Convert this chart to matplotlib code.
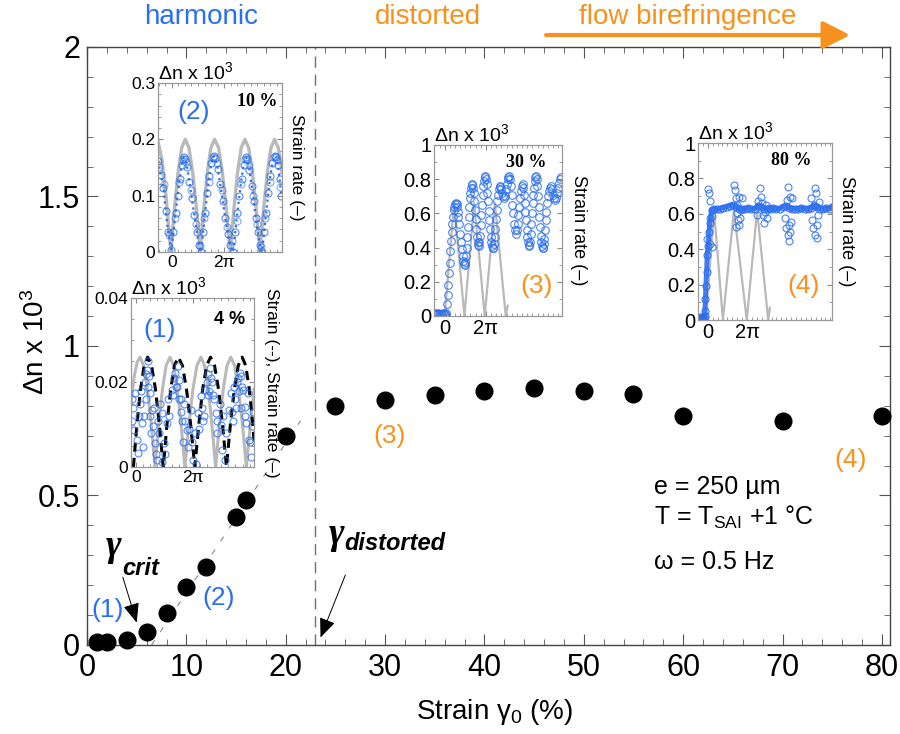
import numpy as np
import matplotlib.pyplot as plt
from matplotlib.ticker import MultipleLocator, FuncFormatter, FixedLocator

plt.rcParams['font.family'] = ['Liberation Sans', 'DejaVu Sans']
plt.rcParams['mathtext.fontset'] = 'custom'
plt.rcParams['mathtext.rm'] = 'Liberation Sans'
plt.rcParams['mathtext.it'] = 'Liberation Sans:italic'
plt.rcParams['mathtext.bf'] = 'Liberation Sans:bold'

BLUE = '#2b6ff0'
ORANGE = '#f7921e'
GREY = '#b9b9b9'

# main curve: birefringence vs strain amplitude
strain = [1, 2, 4, 6, 8, 10, 12, 15, 16, 20, 25, 30, 35, 40, 45, 50, 55, 60, 70, 80]
dn = [0.010, 0.010, 0.018, 0.045, 0.108, 0.193, 0.26, 0.429, 0.485, 0.70,
      0.80, 0.82, 0.835, 0.85, 0.86, 0.85, 0.84, 0.765, 0.75, 0.765]
fit_strain = [6.5, 21.5]
fit_dn = [0.0, 0.75]
gamma_distorted = 22.9

# inset (2) : 10 %
grey2_x = [-1.65, -1.2, -0.7, -0.12, 0.32, 0.75, 1.18, 1.61, 2.05, 2.5, 2.95, 3.39, 3.82, 4.25,
           4.68, 5.12, 5.6, 6.05, 6.52, 7.0, 7.44, 7.87, 8.31, 8.75, 9.2, 9.65, 10.1, 10.56,
           11.0, 11.43, 11.87, 12.3, 12.75, 13.2]
grey2_y = [0.196, 0.165, 0.10, 0.0, 0.077, 0.141, 0.185, 0.2, 0.185, 0.141, 0.077, 0.0, 0.077,
           0.141, 0.185, 0.2, 0.185, 0.141, 0.077, 0.0, 0.077, 0.141, 0.185, 0.2, 0.185, 0.141,
           0.077, 0.0, 0.077, 0.141, 0.185, 0.2, 0.185, 0.141]
blue2_x = [-1.62, -1.33, -1.0, -0.73, -0.44, -0.04, 0.2, 0.45, 0.7, 0.95, 1.2, 1.45, 1.6, 1.85,
           2.1, 2.4, 2.7, 3.0, 3.25, 3.5, 3.75, 4.0, 4.25, 4.5, 4.75, 5.0, 5.2, 5.5, 5.8, 6.1,
           6.4, 6.7, 7.0, 7.34, 7.6, 7.85, 8.1, 8.35, 8.6, 8.85, 9.05, 9.3, 9.55, 9.8, 10.05,
           10.3, 10.55, 10.8, 11.05, 11.3, 11.55, 11.8, 12.05, 12.3, 12.5, 12.7, 12.9, 13.1]
blue2_y = [0.162, 0.137, 0.113, 0.072, 0.036, 0.003, 0.035, 0.07, 0.10, 0.13, 0.155, 0.168,
           0.165, 0.15, 0.125, 0.095, 0.065, 0.035, 0.012, 0.0, 0.035, 0.07, 0.105, 0.135,
           0.158, 0.17, 0.166, 0.148, 0.12, 0.09, 0.06, 0.032, 0.012, 0.0, 0.035, 0.07, 0.10,
           0.13, 0.155, 0.168, 0.165, 0.145, 0.118, 0.09, 0.06, 0.035, 0.012, 0.0, 0.035, 0.07,
           0.105, 0.135, 0.158, 0.17, 0.168, 0.155, 0.13, 0.10]
# scattered extra circles around the humps in inset (2)
blue2b_x = [-1.5, -0.9, -0.3, 0.35, 0.85, 1.35, 1.75, 2.25, 2.85, 3.35, 3.9, 4.4, 4.9, 5.35,
            5.95, 6.55, 7.2, 7.75, 8.25, 8.75, 9.2, 9.7, 10.2, 10.7, 11.2, 11.7, 12.2, 12.6,
            13.0]
blue2b_y = [0.15, 0.12, 0.03, 0.06, 0.125, 0.165, 0.16, 0.11, 0.05, 0.01, 0.06, 0.125,
            0.168, 0.158, 0.11, 0.045, 0.02, 0.055, 0.12, 0.165, 0.155, 0.10, 0.05, 0.008,
            0.06, 0.125, 0.168, 0.163, 0.115]

# inset (1) : 4 %
grey1_x = [-0.55, -0.2, 0.12, 0.44, 0.85, 1.27, 1.69, 2.1, 2.51, 2.92, 3.33, 3.75, 4.16, 4.57,
           4.98, 5.4, 5.84, 6.29, 6.73, 7.17, 7.58, 7.99, 8.39, 8.8, 9.22, 9.64, 10.06, 10.48,
           10.9, 11.33, 11.77, 12.2, 12.63, 13.05]
grey1_y = [0.015, 0.0214, 0.0248, 0.026, 0.024, 0.0184, 0.010, 0.0, 0.010, 0.0184, 0.024, 0.026,
           0.024, 0.0184, 0.010, 0.0, 0.010, 0.0184, 0.024, 0.026, 0.024, 0.0184, 0.010, 0.0,
           0.010, 0.0184, 0.024, 0.026, 0.024, 0.0184, 0.010, 0.0, 0.010, 0.0184]
strain1_x = [-0.29, 0.1, 0.5, 0.9, 1.29, 1.72, 2.15, 2.58, 3.01, 3.42, 3.84, 4.25, 4.67, 5.13,
             5.58, 6.04, 6.5, 6.94, 7.37, 7.81, 8.24, 8.68, 9.12, 9.56, 10.0, 10.43, 10.87,
             11.3, 11.73, 12.13, 12.52, 12.91, 13.05]
strain1_y = [0, 0.010, 0.0184, 0.024, 0.026, 0.024, 0.0184, 0.010, 0, 0.010, 0.0184, 0.024,
             0.026, 0.024, 0.0184, 0.010, 0, 0.010, 0.0184, 0.024, 0.026, 0.024, 0.0184, 0.010,
             0, 0.010, 0.0184, 0.024, 0.026, 0.024, 0.0184, 0.010, 0.006]
blue1_x = [-0.48, -0.29, -0.4, -0.18, 0.07, -0.11, 0.44, 0.63, 0.8, 0.26, 0.99, 1.18, 1.29,
           1.43, 1.54, 1.73, 1.91, 2.1, 2.28, 1.65, 2.46, 2.65, 2.83, 3.12, 2.9, 3.38, 3.57,
           3.93, 4.3, 4.6, 4.78, 4.96, 5.11, 5.33, 5.59, 5.77, 6.07, 6.32, 6.58, 6.5, 6.87,
           7.17, 7.43, 7.68, 7.98, 8.16, 8.42, 8.64, 8.79, 9.0, 9.26, 9.52, 9.82, 10.0, 10.26,
           10.48, 10.74, 10.92, 11.21, 11.47, 11.65, 11.84, 12.02, 12.2, 12.46, 12.68, 12.83,
           12.39, 0.9, 4.45, 8.0, 11.55, 3.2, 6.2, 9.6,
           0.3, 0.55, 1.05, 1.1, 1.35, 1.6, 2.0, 2.2, 2.55, 3.7, 4.1, 4.2, 4.5, 4.7, 5.0, 5.2,
           5.45, 5.9, 7.0, 7.3, 7.55, 7.8, 8.05, 8.3, 8.5, 8.9, 9.4, 10.6, 10.85, 11.05, 11.3,
           11.4, 11.75, 12.1, 12.55, 12.95]
blue1_y = [0.016, 0.014, 0.011, 0.0088, 0.0064, 0.0175, 0.015, 0.0104, 0.0048, 0.0032, 0.020,
           0.023, 0.025, 0.0215, 0.0175, 0.0135, 0.0096, 0.0056, 0.0016, 0.008, 0.011, 0.015,
           0.0127, 0.0056, 0.0012, 0.0104, 0.016, 0.0183, 0.0223, 0.024, 0.0207, 0.016, 0.011,
           0.015, 0.0088, 0.0048, 0.0135, 0.0016, 0.0008, 0.008, 0.0127, 0.0167, 0.011, 0.0183,
           0.022, 0.0235, 0.020, 0.016, 0.0127, 0.008, 0.015, 0.004, 0.0016, 0.008, 0.0135,
           0.0175, 0.011, 0.016, 0.020, 0.0223, 0.0215, 0.0183, 0.0143, 0.0104, 0.0064, 0.0024,
           0.0096, 0.0175, 0.012, 0.019, 0.017, 0.014, 0.003, 0.006, 0.012,
           0.012, 0.018, 0.016, 0.022, 0.019, 0.012, 0.014, 0.003, 0.008, 0.012, 0.017, 0.021,
           0.019, 0.016, 0.013, 0.006, 0.011, 0.009, 0.009, 0.014, 0.012, 0.020, 0.018, 0.021,
           0.017, 0.011, 0.010, 0.013, 0.019, 0.014, 0.021, 0.018, 0.019, 0.012, 0.006, 0.013]

# inset (3) : 30 %
grey3_x = [0.0, 1.43, 3.0, 4.5, 6.1, 7.65, 9.3, 9.6]
grey3_y = [0.0, 0.66, 0.0, 0.66, 0.0, 0.66, 0.0, 0.06]
blue3_pts = [
    (-1.6, 0.01), (-1.45, 0.015), (-1.3, 0.012), (-1.15, 0.01), (-1.0, 0.015), (-0.85, 0.01),
    (-0.7, 0.014), (-0.55, 0.01), (-0.4, 0.012), (-0.25, 0.015), (-0.1, 0.01), (0.0, 0.012),
    (0.1, 0.01), (0.25, 0.02), (0.35, 0.07), (0.45, 0.12), (0.55, 0.18), (0.65, 0.25),
    (0.75, 0.31), (0.85, 0.38), (0.95, 0.44), (1.05, 0.49), (1.15, 0.54), (1.25, 0.58),
    (1.35, 0.62), (1.45, 0.64), (1.55, 0.655), (1.68, 0.66), (1.8, 0.655), (1.9, 0.64),
    (2.0, 0.61), (2.1, 0.58), (2.2, 0.54), (2.35, 0.48), (2.48, 0.43), (2.6, 0.39),
    (2.72, 0.35), (2.85, 0.32), (2.95, 0.305), (3.06, 0.30), (3.15, 0.315), (3.25, 0.35),
    (3.35, 0.40), (3.45, 0.46), (3.55, 0.52), (3.65, 0.58), (3.75, 0.64), (3.85, 0.69),
    (3.92, 0.72), (4.0, 0.75), (4.1, 0.765), (4.18, 0.77), (4.3, 0.75), (4.4, 0.72),
    (4.5, 0.67), (4.6, 0.62), (4.7, 0.565), (4.8, 0.51), (4.9, 0.46), (5.0, 0.43),
    (5.1, 0.415), (5.2, 0.41), (5.3, 0.43), (5.4, 0.47), (5.5, 0.53), (5.6, 0.59),
    (5.7, 0.65), (5.8, 0.71), (5.9, 0.76), (6.0, 0.79), (6.08, 0.81), (6.17, 0.82),
    (6.3, 0.80), (6.4, 0.77), (6.5, 0.72), (6.6, 0.67), (6.7, 0.615), (6.8, 0.56),
    (6.9, 0.51), (7.0, 0.46), (7.1, 0.43), (7.2, 0.41), (7.3, 0.40), (7.4, 0.40),
    (7.5, 0.42), (7.6, 0.46), (7.7, 0.51), (7.8, 0.57), (7.9, 0.62), (8.0, 0.67),
    (8.12, 0.71), (8.25, 0.74), (8.35, 0.755), (8.47, 0.76), (8.65, 0.745), (8.8, 0.72),
    (8.95, 0.70), (9.08, 0.69), (9.2, 0.70), (9.35, 0.74), (9.48, 0.77), (9.6, 0.80),
    (9.7, 0.815), (9.8, 0.82), (9.92, 0.80), (10.05, 0.76), (10.18, 0.71), (10.3, 0.65),
    (10.42, 0.60), (10.55, 0.54), (10.7, 0.50), (10.87, 0.48), (11.0, 0.50), (11.1, 0.54),
    (11.22, 0.59), (11.35, 0.64), (11.48, 0.69), (11.6, 0.73), (11.75, 0.76), (11.9, 0.77),
    (12.0, 0.75), (12.1, 0.71), (12.2, 0.66), (12.3, 0.61), (12.4, 0.56), (12.5, 0.50),
    (12.6, 0.46), (12.7, 0.43), (12.8, 0.415), (12.9, 0.41), (13.0, 0.43), (13.1, 0.48),
    (13.2, 0.54), (13.3, 0.60), (13.4, 0.66), (13.5, 0.71), (13.6, 0.75), (13.7, 0.79),
    (13.8, 0.81), (13.9, 0.82), (14.0, 0.80), (14.1, 0.76), (14.2, 0.70), (14.3, 0.64),
    (14.4, 0.58), (14.5, 0.52), (14.6, 0.47), (14.7, 0.43), (14.8, 0.41), (14.9, 0.40),
    (15.0, 0.40), (15.1, 0.42), (15.2, 0.45), (15.3, 0.50), (15.4, 0.56), (15.5, 0.61),
    (15.65, 0.66), (15.8, 0.70), (15.95, 0.73), (16.1, 0.75), (16.25, 0.76), (16.4, 0.74),
    (16.55, 0.71), (16.7, 0.69), (16.85, 0.68), (17.0, 0.69), (17.15, 0.72), (17.3, 0.75),
    (17.45, 0.78), (17.6, 0.80), (17.75, 0.81)]
blue3_x = [p[0] for p in blue3_pts]
blue3_y = [p[1] for p in blue3_pts]

# inset (4) : 80 %
grey4_x = [-0.3, 1.0, 2.42, 4.19, 6.24, 7.9, 9.68, 9.95]
grey4_y = [0.0, 0.62, 0.0, 0.62, 0.0, 0.62, 0.0, 0.07]
band4_x = [-1.56, -1.3, -1.0, -0.7, -0.5, -0.48, -0.38, -0.32, -0.2, -0.1, 0.05, 0.2, 0.32,
           0.6, 1.0, 1.5, 2.0, 2.5, 3.0, 3.5, 4.0, 4.5, 5.0, 5.5, 6.0, 6.5, 7.0, 7.5, 8.0, 8.5,
           9.0, 9.5, 10.0, 10.5, 11.0, 11.5, 12.0, 12.5, 13.0, 13.5, 14.0, 14.5, 15.0, 15.5,
           16.0, 16.5, 17.0, 17.5, 18.0, 18.5, 19.0, 19.5, 19.85]
band4_y = [0.015, 0.01, 0.015, 0.01, 0.02, 0.05, 0.12, 0.19, 0.27, 0.37, 0.42, 0.50, 0.55,
           0.62, 0.63, 0.625, 0.63, 0.635, 0.64, 0.645, 0.65, 0.64, 0.63, 0.625, 0.63, 0.635,
           0.625, 0.63, 0.645, 0.64, 0.63, 0.625, 0.63, 0.635, 0.625, 0.63, 0.64, 0.645, 0.635,
           0.625, 0.63, 0.625, 0.635, 0.63, 0.625, 0.635, 0.645, 0.64, 0.63, 0.625, 0.635,
           0.63, 0.64]
scat4_x = [-0.2, 0.43, 0.6, 0.05, 0.16, 0.32, 0.65, 0.43, 4.25, 4.35, 4.52, 4.62, 4.73, 4.89,
           5.0, 5.16, 5.27, 5.43, 4.46, 5.05, 8.39, 8.5, 8.66, 8.12, 8.82, 9.03, 9.19, 9.46,
           9.73, 7.85, 9.35, 12.85, 12.69, 12.42, 12.58, 12.8, 13.06, 13.23, 13.39, 13.55,
           13.12, 12.96, 17.1, 17.26, 16.99, 16.72, 16.88, 17.15, 17.42, 17.53, 17.69, 17.8,
           16.56, -1.4, -1.15, -0.85, -0.6]
scat4_y = [0.46, 0.43, 0.41, 0.74, 0.72, 0.67, 0.59, 0.575, 0.763, 0.735, 0.688, 0.65, 0.603,
           0.566, 0.537, 0.575, 0.622, 0.688, 0.528, 0.697, 0.744, 0.697, 0.66, 0.67, 0.594,
           0.547, 0.613, 0.575, 0.632, 0.594, 0.65, 0.754, 0.679, 0.575, 0.519, 0.481, 0.444,
           0.5, 0.556, 0.688, 0.697, 0.538, 0.744, 0.716, 0.65, 0.566, 0.519, 0.481, 0.462,
           0.538, 0.594, 0.669, 0.688, 0.012, 0.015, 0.01, 0.014]

fig = plt.figure(figsize=(9, 7.34), dpi=100)
ax = fig.add_axes([0.0967, 0.1213, 0.892, 0.8147])

ax.plot(fit_strain, fit_dn, color='#888888', lw=0.8, dashes=(5, 9))
ax.axvline(gamma_distorted, color='#707070', lw=1.0, dashes=(8, 5))
ax.plot(strain, dn, 'o', color='k', ms=12, clip_on=False, zorder=5)

ax.set_xlim(0, 80.8)
ax.set_ylim(0, 2)
ax.xaxis.set_major_locator(MultipleLocator(10))
ax.xaxis.set_minor_locator(MultipleLocator(2))
ax.yaxis.set_major_locator(MultipleLocator(0.5))
ax.yaxis.set_minor_locator(MultipleLocator(0.1))
ax.yaxis.set_major_formatter(FuncFormatter(lambda v, p: f'{v:g}'))
ax.tick_params(which='both', direction='in', top=True, right=True, labelsize=22,
               color='#555555')
ax.tick_params(which='major', length=8)
ax.tick_params(which='minor', length=4)
ax.tick_params(axis='x', pad=6)
ax.tick_params(axis='y', pad=5)
for s in ax.spines.values():
    s.set_color('#444444')
    s.set_linewidth(1.0)

fig.text(0.040, 0.535, 'Δn x 10$^3$', rotation=90, fontsize=20, ha='center', va='center')
fig.text(0.55, 0.030, 'Strain γ$_0$ (%)', fontsize=20, ha='center', va='center')

# region labels on top
fig.text(0.224, 0.977, 'harmonic', color=BLUE, fontsize=20, ha='center', va='center')
fig.text(0.476, 0.977, 'distorted', color=ORANGE, fontsize=20, ha='center', va='center')
fig.text(0.764, 0.977, 'flow birefringence', color=ORANGE, fontsize=20, ha='center', va='center')
ax.annotate('', xy=(76.8, 2.04), xytext=(46.2, 2.04), annotation_clip=False,
            arrowprops=dict(arrowstyle='-|>,head_length=0.55,head_width=0.28',
                            color=ORANGE, lw=3, mutation_scale=30, shrinkA=0, shrinkB=0))

# gamma annotations
ax.annotate('', xy=(5.0, 0.075), xytext=(3.6, 0.227),
            arrowprops=dict(arrowstyle='-|>,head_length=0.6,head_width=0.25', color='k',
                            lw=0.7, mutation_scale=20, shrinkA=0, shrinkB=0))
ax.annotate('', xy=(23.5, 0.025), xytext=(26.0, 0.234),
            arrowprops=dict(arrowstyle='-|>,head_length=0.6,head_width=0.25', color='k',
                            lw=0.7, mutation_scale=20, shrinkA=0, shrinkB=0))
ax.text(1.9, 0.33, 'γ', family='Liberation Serif', style='italic', fontweight='bold',
        fontsize=27, ha='left', va='center')
ax.text(3.5, 0.255, 'crit', fontweight='bold', style='italic', fontsize=17,
        ha='left', va='center')
ax.text(24.3, 0.37, 'γ', family='Liberation Serif', style='italic', fontweight='bold',
        fontsize=27, ha='left', va='center')
ax.text(25.9, 0.34, 'distorted', fontweight='bold', style='italic', fontsize=17,
        ha='left', va='center')

ax.text(2.1, 0.117, '(1)', color=BLUE, fontsize=19, ha='center', va='center')
ax.text(13.2, 0.157, '(2)', color=BLUE, fontsize=19, ha='center', va='center')
ax.text(30.4, 0.70, '(3)', color=ORANGE, fontsize=19, ha='center', va='center')
ax.text(76.8, 0.62, '(4)', color=ORANGE, fontsize=19, ha='center', va='center')

ax.text(57.1, 0.528, 'e = 250 µm', fontsize=18, ha='left', va='center')
ax.text(57.1, 0.425, 'T = T$_{\\rm SAI}$ +1 °C', fontsize=18, ha='left', va='center')
ax.text(57.1, 0.277, 'ω = 0.5 Hz', fontsize=18, ha='left', va='center')


def inset(rect, xlim, ylim, ystep, yminor, tsize, pct, pct_pos, pct_serif, tag, tag_col,
          tag_pos, side, side_x, side_size):
    a = fig.add_axes(rect)
    a.set_xlim(*xlim)
    a.set_ylim(*ylim)
    a.xaxis.set_major_locator(FixedLocator([0, 2 * np.pi]))
    a.set_xticklabels(['0', '2π'])
    a.xaxis.set_minor_locator(MultipleLocator(np.pi / 4))
    a.yaxis.set_major_locator(MultipleLocator(ystep))
    a.yaxis.set_minor_locator(MultipleLocator(yminor))
    a.yaxis.set_major_formatter(FuncFormatter(lambda v, p: f'{v:g}'))
    a.tick_params(which='both', direction='in', top=True, right=True, labelsize=tsize,
                  color='#8a8a8a', pad=2)
    a.tick_params(which='major', length=3.5)
    a.tick_params(which='minor', length=2)
    for s in a.spines.values():
        s.set_color('#999999')
        s.set_linewidth(0.9)
    a.text(0.0, 1.0, 'Δn x 10$^3$', transform=a.transAxes, fontsize=14,
           ha='left', va='bottom')
    if pct_serif:
        a.text(pct_pos[0], pct_pos[1], pct, transform=a.transAxes, fontsize=13,
               family='Liberation Serif', fontweight='bold', ha='right', va='center')
    else:
        a.text(pct_pos[0], pct_pos[1], pct, transform=a.transAxes, fontsize=13,
               fontweight='bold', ha='right', va='center')
    a.text(tag_pos[0], tag_pos[1], tag, transform=a.transAxes, fontsize=19, color=tag_col,
           ha='center', va='center', zorder=6)
    a.text(side_x, 0.5, side, transform=a.transAxes, fontsize=side_size, rotation=-90,
           ha='center', va='center')
    return a


a2 = inset([0.1756, 0.6567, 0.1378, 0.2302], (-1.65, 13.2), (0, 0.3), 0.1, 0.02, 12.5,
           '10 %', (0.96, 0.89), True, '(2)', BLUE, (0.285, 0.83),
           'Strain rate (–)', 1.12, 12.5)
a2.plot(grey2_x, grey2_y, color=GREY, lw=2.4)
a2.plot(blue2_x, blue2_y, color=BLUE, lw=1.6, ls=':')
a2.plot(blue2_x, blue2_y, 'o', mfc='none', mec=BLUE, ms=5, mew=0.8, alpha=0.8)
a2.plot(blue2b_x, blue2b_y, 'o', mfc='none', mec=BLUE, ms=5, mew=0.8, alpha=0.6)

a1 = inset([0.1456, 0.3638, 0.1367, 0.2302], (-0.55, 13.05), (0, 0.04), 0.02, 0.005, 12.5,
           '4 %', (0.93, 0.87), False, '(1)', BLUE, (0.235, 0.81),
           'Strain (--), Strain rate (–)', 1.14, 12.5)
a1.plot(grey1_x, grey1_y, color=GREY, lw=2.2)
a1.plot(strain1_x, strain1_y, color='k', lw=2.2, dashes=(3, 2))
a1.plot(blue1_x, blue1_y, 'o', mfc='none', mec=BLUE, ms=5, mew=0.8, alpha=0.8)

a3 = inset([0.4822, 0.5695, 0.1422, 0.2330], (-1.63, 17.86), (0, 1), 0.2, 0.1, 14.5,
           '30 %', (0.88, 0.895), True, '(3)', ORANGE, (0.80, 0.175),
           'Strain rate (–)', 1.13, 13)
a3.plot(grey3_x, grey3_y, color=GREY, lw=1.6)
a3.plot(blue3_x, blue3_y, 'o', mfc='none', mec=BLUE, ms=5.5, mew=0.8, alpha=0.85)

a4 = inset([0.7756, 0.5640, 0.1489, 0.2411], (-1.56, 19.9), (0, 1), 0.2, 0.1, 14.5,
           '80 %', (0.85, 0.90), True, '(4)', ORANGE, (0.79, 0.19),
           'Strain rate (–)', 1.11, 13)
a4.plot(grey4_x, grey4_y, color=GREY, lw=1.6)
a4.plot(band4_x, band4_y, color=BLUE, lw=3.5, alpha=0.9)
a4.plot(band4_x, band4_y, 'o', mfc='none', mec=BLUE, ms=5, mew=0.8)
a4.plot(scat4_x, scat4_y, 'o', mfc='none', mec=BLUE, ms=5, mew=0.8, alpha=0.85)

fig.savefig('out.png', dpi=100)
